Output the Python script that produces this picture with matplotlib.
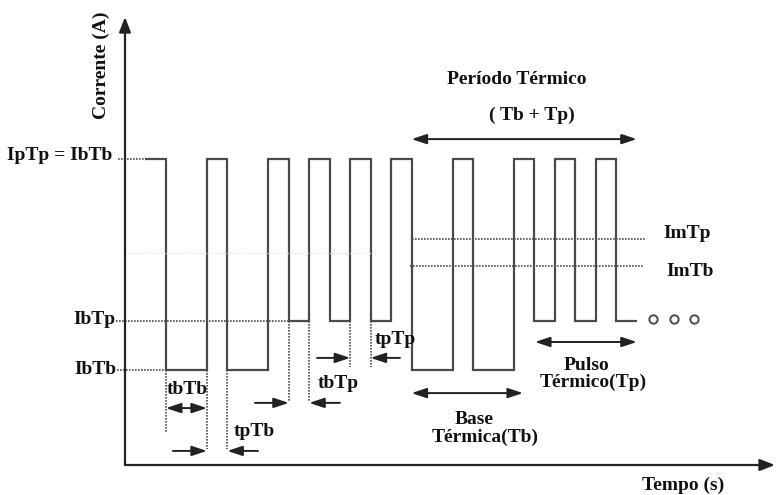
import matplotlib
matplotlib.use('Agg')
import matplotlib.pyplot as plt

# Niveis de corrente (unidades arbitrarias)
I_pico = 10.0      # IpTp = IbTb
I_base_tp = 4.7    # IbTp
I_base_tb = 3.1    # IbTb
I_med_tp = 7.4     # ImTp
I_med_tb = 6.5     # ImTb

# Forma de onda: instantes de comutacao e nivel de cada trecho
t_bordas = [1, 2, 4, 5, 7, 8, 9, 10, 11, 12, 13, 14, 16, 17, 19, 20, 21, 22, 23, 24, 25]
niveis = [I_pico, I_base_tb, I_pico, I_base_tb, I_pico, I_base_tp, I_pico, I_base_tp,
          I_pico, I_base_tp, I_pico, I_base_tb, I_pico, I_base_tb, I_pico, I_base_tp,
          I_pico, I_base_tp, I_pico, I_base_tp]

# Reticencias (continua...)
t_reticencias = [25.8, 26.8, 27.8]

# Marcas de tempo verticais: (t, topo, fundo)
marcas_t = [(2, I_base_tb, 1.08), (4, I_base_tb, 0.52), (5, I_base_tb, 0.52),
            (8, I_base_tp, 2.06), (9, I_base_tp, 2.06),
            (11, I_base_tp, 3.2), (12, I_base_tp, 3.2)]

COR = '#4a4a4a'
FONTE = dict(family='Liberation Serif', fontweight='bold', fontsize=14, color='#111111')

fig = plt.figure(figsize=(7.76, 4.95), dpi=100)
ax = fig.add_axes([0, 0, 1, 1])
# mapeamento: x_px = 125 + 20.47*t ; y_px = 465 - 30.6*I
ax.set_xlim(-125 / 20.47, (776 - 125) / 20.47)
ax.set_ylim((465 - 495) / 30.6, 465 / 30.6)
ax.axis('off')

# eixos com setas
x_max = (775 - 125) / 20.47
y_max = (465 - 17) / 30.6
ax.annotate('', xy=(x_max, 0), xytext=(0, 0),
            arrowprops=dict(arrowstyle='-|>,head_length=0.9,head_width=0.35', color='#222222', lw=1.6,
                            shrinkA=0, shrinkB=0))
ax.annotate('', xy=(0, y_max), xytext=(0, 0),
            arrowprops=dict(arrowstyle='-|>,head_length=0.9,head_width=0.35', color='#222222', lw=1.6,
                            shrinkA=0, shrinkB=0))

# forma de onda pulsada
ax.stairs(niveis, t_bordas, baseline=None, color=COR, lw=1.6)

# linhas guia pontilhadas
pont = dict(color='#4d4d4d', lw=1.2, ls=(0, (1, 0.8)))
ax.plot([-0.35, 1], [I_pico, I_pico], **pont)
ax.plot([-0.45, 8], [I_base_tp, I_base_tp], **pont)
ax.plot([-0.4, 2], [I_base_tb, I_base_tb], **pont)
ax.plot([14, 25.45], [I_med_tp, I_med_tp], **pont)
ax.plot([13.9, 25.3], [I_med_tb, I_med_tb], **pont)
ax.plot([0, 12], [6.93, 6.93], color='#e4e4e4', lw=0.8, ls=(0, (1, 1)))
for t, topo, fundo in marcas_t:
    ax.plot([t, t], [topo, fundo], **pont)

ax.plot(t_reticencias, [4.77] * 3, ls='none', marker='o', ms=6, mfc='white', mec=COR, mew=1.4)

# setas de cotas
def seta(x0, x1, y, estilo):
    ax.annotate('', xy=(x1, y), xytext=(x0, y),
                arrowprops=dict(arrowstyle=estilo + ',head_length=0.9,head_width=0.3',
                                color='#222222', lw=1.4, shrinkA=0, shrinkB=0))

seta(2, 4, 1.86, '<|-|>')
seta(2.34, 4, 0.46, '-|>')
seta(6.5, 5, 0.46, '-|>')
seta(6.35, 8, 2.03, '-|>')
seta(10.5, 9, 2.03, '-|>')
seta(9.38, 11, 3.5, '-|>')
seta(13.43, 12, 3.5, '-|>')
seta(14, 25, 10.65, '<|-|>')
seta(14, 19.44, 2.35, '<|-|>')
seta(20.03, 25, 4.02, '<|-|>')

# textos
def px(x, y):
    return (x - 125) / 20.47, (465 - y) / 30.6

ax.text(*px(112, 155), 'IpTp = IbTb', ha='right', va='center', **FONTE)
ax.text(*px(116, 320), 'IbTp', ha='right', va='center', **FONTE)
ax.text(*px(116, 370), 'IbTb', ha='right', va='center', **FONTE)
ax.text(*px(187, 389), 'tbTb', ha='center', va='center', **FONTE)
ax.text(*px(254, 432), 'tpTb', ha='center', va='center', **FONTE)
ax.text(*px(338, 384), 'tbTp', ha='center', va='center', **FONTE)
ax.text(*px(395, 340), 'tpTp', ha='center', va='center', **FONTE)
ax.text(*px(517, 80), 'Período Térmico', ha='center', va='center', **FONTE)
ax.text(*px(532, 115), '( Tb + Tp)', ha='center', va='center', **FONTE)
ax.text(*px(663, 233), 'ImTp', ha='left', va='center', **FONTE)
ax.text(*px(666, 271), 'ImTb', ha='left', va='center', **FONTE)
ax.text(*px(587, 365), 'Pulso', ha='center', va='center', **FONTE)
ax.text(*px(593, 382), 'Térmico(Tp)', ha='center', va='center', **FONTE)
ax.text(*px(474, 420), 'Base', ha='center', va='center', **FONTE)
ax.text(*px(485, 437), 'Térmica(Tb)', ha='center', va='center', **FONTE)
ax.text(*px(683, 485), 'Tempo (s)', ha='center', va='center', **FONTE)
ax.text(*px(101, 65), 'Corrente (A)', ha='center', va='center', rotation=90, **FONTE)

fig.savefig('out.png', dpi=100)
